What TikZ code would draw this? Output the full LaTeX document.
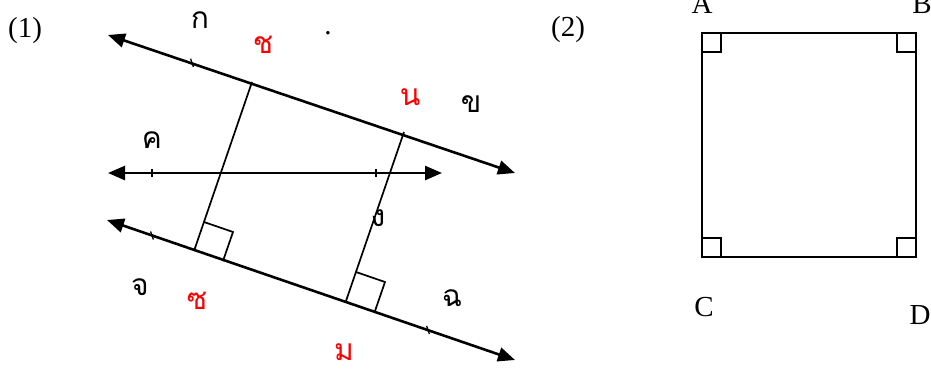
\documentclass[tikz,border=0pt]{standalone}
\usepackage{fontspec}
\setmainfont{Liberation Serif}
\newfontfamily\thaifont[Script=Thai]{Loma}
\usepackage{xcolor}
\usetikzlibrary{arrows.meta,calc}

\tikzset{
  axisline/.style={line width=2.6pt,{Triangle[length=17pt,width=14pt]}-{Triangle[length=17pt,width=14pt]}},
  perpline/.style={line width=1.7pt},
  tickmark/.style={line width=1.3pt},
  thailabel/.style={font=\thaifont\fontsize{30}{32}\selectfont,inner sep=0pt},
  redlabel/.style={thailabel,text=red},
  latinlabel/.style={font=\fontsize{29}{32}\selectfont,inner sep=0pt}
}

\begin{document}
\begin{tikzpicture}[x=1pt,y=-1pt]
  \useasboundingbox (0,0) rectangle (931,372);
  % ── Figure (1): three lines ─────────────────────────
  \coordinate (kL) at (108,35);  \coordinate (kR) at (515,173);
  \coordinate (mL) at (108,173); \coordinate (mR) at (442,173);
  \coordinate (jL) at (107,220); \coordinate (jR) at (515,360);
  \draw[axisline] (kL) -- (kR);
  \draw[axisline] (mL) -- (mR);
  \draw[axisline] (jL) -- (jR);
  % ticks on the lines
  \draw[tickmark] (190.6,58.7) -- (193.4,66.9);
  \draw[tickmark] (152,169) -- (152,177);
  \draw[tickmark] (376,169) -- (376,177);
  \draw[tickmark] (150.6,231.4) -- (153.4,239.6);
  \draw[tickmark] (426.6,325.9) -- (429.4,334.1);
  % perpendiculars (foot on the bottom line)
  \coordinate (f1) at (194,251); \coordinate (t1) at (252,82);
  \coordinate (f2) at (346,301); \coordinate (t2) at (404,132);
  \draw[perpline] (f1) -- (t1);
  \draw[perpline] (f2) -- (t2);
  % right-angle marks
  \draw[perpline] (204,222) -- (233,232) -- (223,261);
  \draw[perpline] (356,272) -- (385,282) -- (375,311);
  % ── Labels of (1) ──────────────────────────────────
  \node[latinlabel] (n1) at (25,31) {(1)};
  \node[thailabel] (ko) at (200,20) {ก};
  \node[redlabel] (cho) at (263,45) {ช};
  \node[latinlabel] (dot) at (328,33) {.};
  \node[redlabel] (no) at (410,97) {น};
  \node[thailabel] (kho) at (471,104) {ข};
  \node[thailabel] (kho2) at (152,140) {ค};
  \node[thailabel] (ngo) at (378,218) {ง};
  \node[thailabel] (cho1) at (140,287) {จ};
  \node[redlabel] (so) at (197,301) {ซ};
  \node[thailabel] (cho2) at (452,298) {ฉ};
  \node[redlabel] (mo) at (344,352) {ม};
  % ── Figure (2): square ─────────────────────────────
  \node[latinlabel] (n2) at (568,30) {(2)};
  \coordinate (A) at (702,33);  \coordinate (B) at (916,33);
  \coordinate (C) at (702,257); \coordinate (D) at (916,257);
  \draw[line width=2pt] (A) -- (B) -- (D) -- (C) -- cycle;
  \draw[perpline] ($(A)+(0,19)$) -- ++(19,0) -- ++(0,-19);
  \draw[perpline] ($(B)+(0,19)$) -- ++(-19,0) -- ++(0,-19);
  \draw[perpline] ($(C)+(0,-19)$) -- ++(19,0) -- ++(0,19);
  \draw[perpline] ($(D)+(0,-19)$) -- ++(-19,0) -- ++(0,19);
  \node[latinlabel] (la) at (702,4) {A};
  \node[latinlabel] (lb) at (922,4) {B};
  \node[latinlabel] (lc) at (704,307) {C};
  \node[latinlabel] (ld) at (920,315) {D};
\end{tikzpicture}
\end{document}
